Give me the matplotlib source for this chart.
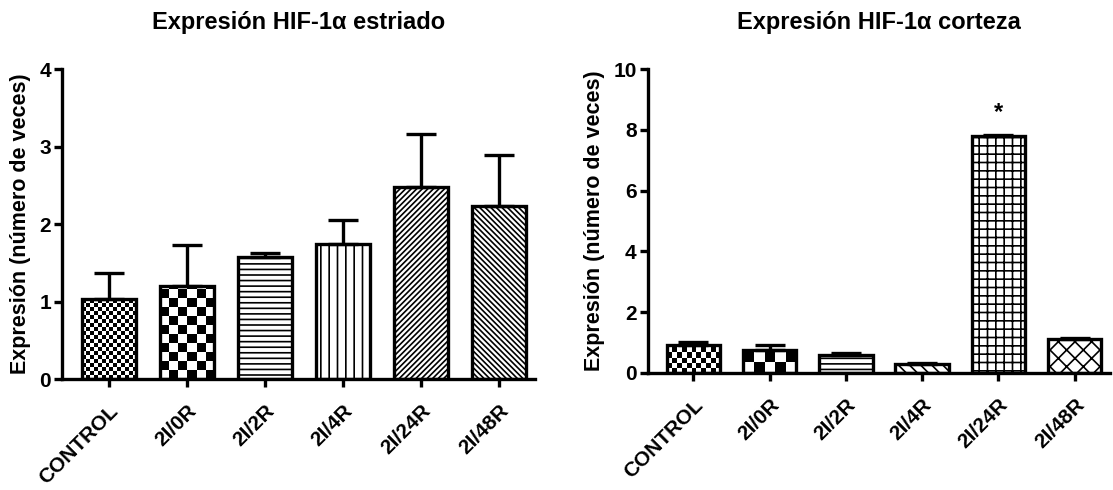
import numpy as np
import matplotlib
matplotlib.use("Agg")
import matplotlib.pyplot as plt

plt.rcParams['font.family'] = ['Liberation Sans', 'DejaVu Sans']
plt.rcParams['font.weight'] = 'bold'
plt.rcParams['hatch.linewidth'] = 1.2

groups = ["CONTROL", "2I/0R", "2I/2R", "2I/4R", "2I/24R", "2I/48R"]

# estriado
str_vals = [1.03, 1.20, 1.58, 1.75, 2.48, 2.23]
str_tops = [1.37, 1.73, 1.63, 2.06, 3.16, 2.89]
# corteza
cor_vals = [0.93, 0.75, 0.60, 0.30, 7.80, 1.10]
cor_tops = [1.03, 0.92, 0.65, 0.34, 7.83, 1.16]
cor_signif = [4]

BAR_W = 0.7
LW = 2.4


def checker(ax, x, h, cell_px):
    # checkerboard fill clipped to the bar, cells sized in pixels
    x0, x1 = ax.get_xlim()
    y0, y1 = ax.get_ylim()
    px_x = ax.bbox.width / (x1 - x0)
    px_y = ax.bbox.height / (y1 - y0)
    nx = max(1, int(round(BAR_W * px_x / cell_px)))
    ny = max(1, int(np.ceil(h * px_y / cell_px)))
    arr = np.indices((ny, nx)).sum(axis=0) % 2
    cell_h = cell_px / px_y
    im = ax.imshow(arr, cmap='gray_r', vmin=0, vmax=1, interpolation='nearest',
                   extent=(x - BAR_W / 2, x + BAR_W / 2, 0, ny * cell_h),
                   origin='lower', aspect='auto', zorder=1)
    rect = plt.Rectangle((x - BAR_W / 2, 0), BAR_W, h, transform=ax.transData)
    im.set_clip_path(rect)


def panel(ax, vals, tops, fills, ymax, ystep, title):
    x = np.arange(len(vals))
    ax.set_xlim(-0.6, 5.46)
    ax.set_ylim(0, ymax)
    for i, (v, f) in enumerate(zip(vals, fills)):
        if f[0] == 'checker':
            ax.bar(i, v, BAR_W, facecolor='none', edgecolor='black', linewidth=LW, zorder=2)
            checker(ax, i, v, f[1])
        else:
            ax.bar(i, v, BAR_W, facecolor='white', edgecolor='black', linewidth=LW,
                   hatch=f[1], zorder=2)
    ax.set_xlim(-0.6, 5.46)
    ax.set_ylim(0, ymax)
    err = np.array(tops) - np.array(vals)
    ax.errorbar(x, vals, yerr=[np.zeros(len(vals)), err], fmt='none', ecolor='black',
                elinewidth=LW, capsize=11, capthick=LW, zorder=3, clip_on=False)
    for s in ['top', 'right']:
        ax.spines[s].set_visible(False)
    for s in ['left', 'bottom']:
        ax.spines[s].set_linewidth(LW)
    ax.set_yticks(np.arange(0, ymax + 0.01, ystep))
    ax.set_xticks(x)
    ax.set_xticklabels(groups, rotation=45, ha='right', rotation_mode='anchor',
                       fontsize=14.5, fontweight='bold')
    ax.tick_params(axis='both', direction='out', length=6, width=LW, labelsize=15, pad=2)
    ax.tick_params(axis='x', pad=10)
    ax.set_ylabel("Expresión (número de veces)", fontsize=15.5, fontweight='bold', labelpad=6)
    ax.set_title(title, fontsize=17, fontweight='bold', pad=29)


fig = plt.figure(figsize=(11.13, 4.9), dpi=100)
ax1 = fig.add_axes([0.0557, 0.2265, 0.425, 0.632])
ax2 = fig.add_axes([0.582, 0.239, 0.415, 0.620])

str_fills = [('checker', 4), ('checker', 9), ('hatch', '---'), ('hatch', '||'),
             ('hatch', '//////'), ('hatch', '\\' * 6)]
cor_fills = [('checker', 5), ('checker', 11), ('hatch', '---'), ('hatch', '\\\\\\'),
             ('hatch', '++'), ('hatch', 'xx')]

panel(ax1, str_vals, str_tops, str_fills, 4, 1, "Expresión HIF-1α estriado")
panel(ax2, cor_vals, cor_tops, cor_fills, 10, 2, "Expresión HIF-1α corteza")

for i in cor_signif:
    ax2.text(i, cor_tops[i] + 0.35, "*", ha='center', va='bottom', fontsize=17,
             fontweight='bold')

fig.savefig("out.png", dpi=100)
